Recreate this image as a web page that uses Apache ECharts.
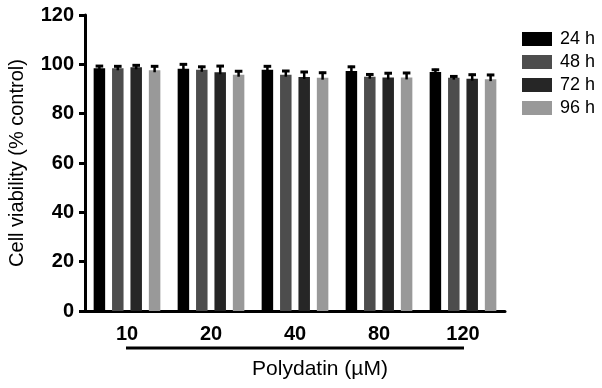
<!DOCTYPE html>
<html><head><meta charset="utf-8">
<script src="https://cdn.jsdelivr.net/npm/echarts@6/dist/echarts.min.js"></script>
<style>html,body{margin:0;padding:0;background:#fff}#c{width:602px;height:388px}</style>
</head><body><div id="c"></div>
<script>
const categories = ['10', '20', '40', '80', '120'];
const seriesNames = ['24 h', '48 h', '72 h', '96 h'];
const v24 = [98.4, 98.2, 97.8, 97.3, 96.9];
const v48 = [98.4, 97.8, 95.8, 95.0, 94.6];
const v72 = [98.8, 96.8, 94.9, 94.7, 94.2];
const v96 = [97.6, 95.8, 94.6, 94.7, 94.0];
const e24 = [1.3, 2.2, 1.8, 2.1, 1.3];
const e48 = [1.2, 1.6, 1.9, 1.3, 0.9];
const e72 = [1.2, 2.9, 2.4, 2.1, 2.0];
const e96 = [2.0, 1.8, 2.4, 2.2, 2.1];
const yTicks = [0, 20, 40, 60, 80, 100, 120];
const colors = ['#000000', '#4d4d4d', '#262626', '#999999'];

const values = [v24, v48, v72, v96];
const errs = [e24, e48, e72, e96];
const BW = 11.5, GAP = 6.9;
const pitch = BW + GAP;
const FONT = 'Liberation Sans, Arial, Helvetica, sans-serif';

const chart = echarts.init(document.getElementById('c'), null, {renderer: 'canvas'});
const series = [];
values.forEach((vals, i) => {
  series.push({
    name: seriesNames[i], type: 'bar', data: vals,
    barWidth: BW, barGap: (GAP / BW * 100) + '%',
    itemStyle: {color: colors[i]}, z: 2
  });
});
values.forEach((vals, i) => {
  const off = (i - 1.5) * pitch;
  series.push({
    type: 'custom', silent: true, z: 3,
    data: vals.map((v, k) => [k, v, v + errs[i][k]]),
    renderItem: function (params, api) {
      const base = api.coord([api.value(0), api.value(1)]);
      const top = api.coord([api.value(0), api.value(2)]);
      const x = base[0] + off;
      return {type: 'group', children: [
        {type: 'line', shape: {x1: x, y1: base[1] + 2, x2: x, y2: top[1]}, style: {stroke: '#000', lineWidth: 2.5}},
        {type: 'line', shape: {x1: x - 3.8, y1: top[1] + 1, x2: x + 3.8, y2: top[1] + 1}, style: {stroke: '#000', lineWidth: 3}}
      ]};
    }
  });
});

chart.setOption({
  animation: false,
  backgroundColor: '#fff',
  grid: {left: 85, right: 97, top: 15, bottom: 77, containLabel: false, outerBoundsMode: 'none'},
  legend: {
    data: seriesNames, orient: 'vertical', left: 522, top: 30, padding: 0,
    itemWidth: 30, itemHeight: 14, itemGap: 5, icon: 'rect',
    textStyle: {fontFamily: FONT, fontSize: 18, lineHeight: 18, color: '#000', padding: [0, 0, 0, 3]}
  },
  xAxis: {
    type: 'category', data: categories,
    axisLine: {lineStyle: {color: '#000', width: 3}},
    axisTick: {alignWithLabel: true, length: 6, lineStyle: {color: '#000', width: 3}},
    axisLabel: {margin: 13, color: '#000', fontFamily: FONT, fontWeight: 'bold', fontSize: 20}
  },
  yAxis: {
    type: 'value', min: 0, max: 120, interval: 20,
    name: 'Cell viability (% control)', nameLocation: 'middle', nameGap: 58,
    nameTextStyle: {color: '#000', fontFamily: FONT, fontSize: 20},
    axisLine: {show: true, lineStyle: {color: '#000', width: 3}},
    axisTick: {show: true, length: 6, lineStyle: {color: '#000', width: 3}},
    axisLabel: {margin: 11, color: '#000', fontFamily: FONT, fontWeight: 'bold', fontSize: 20,
      formatter: v => yTicks.includes(v) ? String(v) : ''},
    splitLine: {show: false}
  },
  series: series
});

const p0 = chart.convertToPixel({xAxisIndex: 0, yAxisIndex: 0}, [0, 0]);
const p1 = chart.convertToPixel({xAxisIndex: 0, yAxisIndex: 0}, [categories.length - 1, 0]);
chart.setOption({
  graphic: [
    {type: 'line', shape: {x1: p0[0] - 1, y1: p0[1] + 37, x2: p1[0] + 1, y2: p0[1] + 37}, style: {stroke: '#000', lineWidth: 3}},
    {type: 'text', x: (p0[0] + p1[0]) / 2 + 25, y: p0[1] + 58, style: {text: 'Polydatin (µM)', fill: '#000', font: '21px "Liberation Sans", Arial', textAlign: 'center', textVerticalAlign: 'middle'}}
  ]
});
</script></body></html>
